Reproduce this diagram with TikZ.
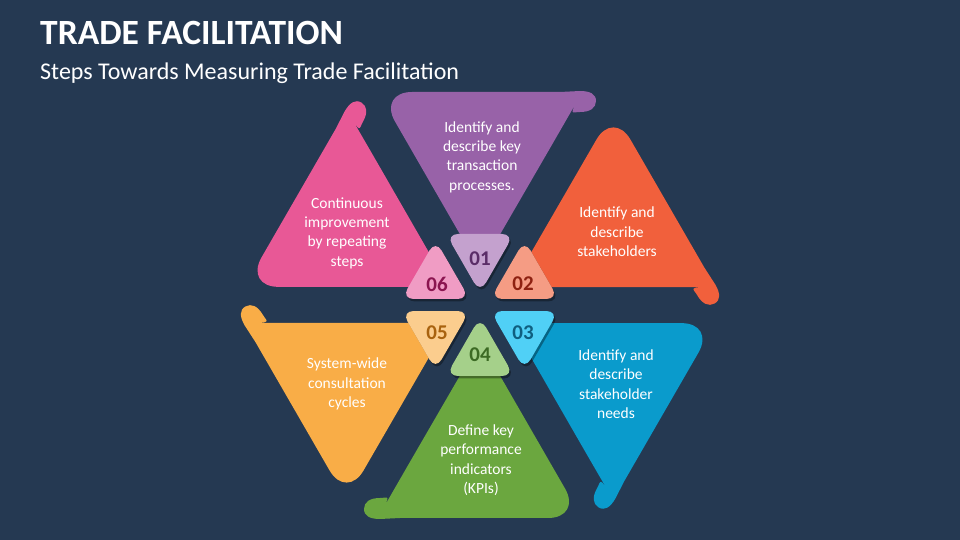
\documentclass[tikz,border=0pt]{standalone}
\usepackage{fontspec}
\setmainfont{Carlito}
\usetikzlibrary{calc}

\definecolor{bg}{RGB}{37,57,82}
\definecolor{petalA}{RGB}{152,98,168}
\definecolor{petalB}{RGB}{241,96,60}
\definecolor{petalC}{RGB}{10,155,204}
\definecolor{petalD}{RGB}{107,167,63}
\definecolor{petalE}{RGB}{249,173,71}
\definecolor{petalF}{RGB}{232,88,150}
\definecolor{tipA}{RGB}{196,161,206}
\definecolor{tipB}{RGB}{245,156,132}
\definecolor{tipC}{RGB}{80,208,246}
\definecolor{tipD}{RGB}{165,208,138}
\definecolor{tipE}{RGB}{251,205,142}
\definecolor{tipF}{RGB}{240,156,196}
\definecolor{numA}{RGB}{90,45,103}
\definecolor{numB}{RGB}{142,33,17}
\definecolor{numC}{RGB}{15,95,128}
\definecolor{numD}{RGB}{60,106,36}
\definecolor{numE}{RGB}{168,98,15}
\definecolor{numF}{RGB}{139,21,80}

\tikzset{
  petal text/.style={text=white, align=center, inner sep=0, font=\fontsize{15.5}{19.4}\selectfont},
  num text/.style={inner sep=0, font=\fontsize{21}{24}\selectfont\bfseries}
}

\begin{document}
\begin{tikzpicture}[x=1pt,y=1pt]
\def\cx{480}
\def\cy{235}
\fill[bg] (0,0) rectangle (960,540);

\node[anchor=base west, inner sep=0, text=white, font=\fontsize{35.5}{40}\selectfont\bfseries] (title) at (40,495) {TRADE FACILITATION};
\node[anchor=base west, inner sep=0, text=white, font=\fontsize{24}{29}\selectfont] (subtitle) at (40,460) {Steps Towards Measuring Trade Facilitation};

% big petals, one shape turned round the centre
\foreach \k/\col in {0/petalA,1/petalB,2/petalC,3/petalD,4/petalE,5/petalF}{
\begin{scope}[rotate around={-60*\k:(\cx,\cy)}]
\fill[\col, rounded corners=34pt] (560,448) -- (378,448) -- (480,271) -- (564,416) [sharp corners] .. controls (568,423) and (572,428) .. (580,428) .. controls (590,428) and (596,432) .. (596,439) .. controls (596,446) and (590,449) .. (580,449) -- cycle;
\end{scope}
}

% small tips with their shadows
\foreach \k in {0,...,5}{
\begin{scope}[shift={(1.5,-2.5)}, rotate around={-60*\k:(\cx,\cy)}]
\fill[black, opacity=.35, rounded corners=12pt] (480,306) -- (514,306) -- (480,247) -- (446,306) -- cycle;
\end{scope}
}
\foreach \k/\col in {0/tipA,1/tipB,2/tipC,3/tipD,4/tipE,5/tipF}{
\begin{scope}[rotate around={-60*\k:(\cx,\cy)}]
\fill[\col, rounded corners=12pt] (480,306) -- (514,306) -- (480,247) -- (446,306) -- cycle;
\end{scope}
}

\node[num text, text=numA] (n1) at (480,281) {01};
\node[num text, text=numB] (n2) at (523,256) {02};
\node[num text, text=numC] (n3) at (523,207) {03};
\node[num text, text=numD] (n4) at (480,185) {04};
\node[num text, text=numE] (n5) at (437,207) {05};
\node[num text, text=numF] (n6) at (437,256) {06};

\node[petal text] (t1) at (482,383) {Identify and\\describe key\\transaction\\processes.};
\node[petal text] (t2) at (617,308) {Identify and\\describe\\stakeholders};
\node[petal text] (t3) at (616,156) {Identify and\\describe\\stakeholder\\needs};
\node[petal text] (t4) at (481,80) {Define key\\performance\\indicators\\(KPIs)};
\node[petal text] (t5) at (347,156) {System-wide\\consultation\\cycles};
\node[petal text] (t6) at (347,307) {Continuous\\improvement\\by repeating\\steps};
\end{tikzpicture}
\end{document}
